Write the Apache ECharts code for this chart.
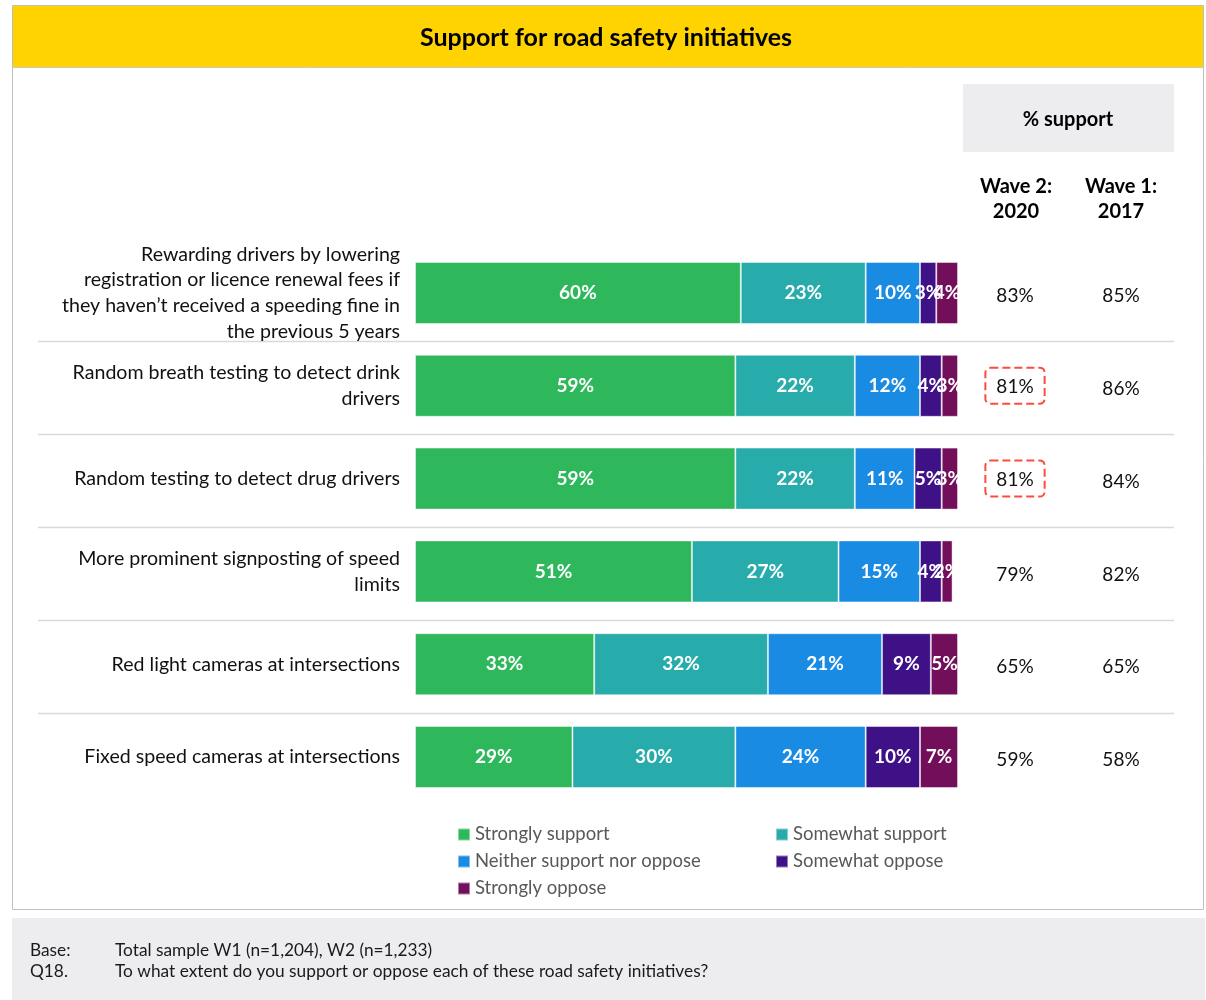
<!DOCTYPE html>
<html>
<head>
<meta charset="utf-8">
<script src="https://cdn.jsdelivr.net/npm/echarts@6/dist/echarts.min.js"></script>
<style>
  html, body { margin: 0; padding: 0; background: #fff; }
  #chart { width: 1206px; height: 1000px; }
</style>
</head>
<body>
<div id="chart"></div>
<script>
// Initiatives, top to bottom
var categories = [
  'Rewarding drivers by lowering\nregistration or licence renewal fees if\nthey haven\u2019t received a speeding fine in\nthe previous 5 years',
  'Random breath testing to detect drink\ndrivers',
  'Random testing to detect drug drivers',
  'More prominent signposting of speed\nlimits',
  'Red light cameras at intersections',
  'Fixed speed cameras at intersections'
];

// Response distribution (%), Wave 2: 2020
var stronglySupport  = [60, 59, 59, 51, 33, 29];
var somewhatSupport  = [23, 22, 22, 27, 32, 30];
var neither          = [10, 12, 11, 15, 21, 24];
var somewhatOppose   = [3, 4, 5, 4, 9, 10];
var stronglyOppose   = [4, 3, 3, 2, 5, 7];

// % support columns
var wave2 = [83, 81, 81, 79, 65, 59];
var wave1 = [85, 86, 84, 82, 65, 58];
// Wave 2 figures flagged with a dashed outline
var wave2Flag = [false, true, true, false, false, false];

var seriesNames = ['Strongly support', 'Somewhat support', 'Neither support nor oppose', 'Somewhat oppose', 'Strongly oppose'];
var seriesData = [stronglySupport, somewhatSupport, neither, somewhatOppose, stronglyOppose];
var colors = ['#2EB85B', '#28ACAB', '#1A8BE3', '#3F1187', '#730F5A'];

var FONT = 'Lato, "Open Sans", sans-serif';

var chart = echarts.init(document.getElementById('chart'), null, { renderer: 'canvas' });

var series = seriesNames.map(function (name, i) {
  return {
    name: name,
    type: 'bar',
    stack: 'total',
    barWidth: 62,
    data: seriesData[i],
    itemStyle: { color: colors[i], borderColor: 'rgba(255,255,255,0.45)', borderWidth: 1 },
    label: {
      show: true,
      position: 'inside',
      formatter: '{c}%',
      color: '#fff',
      fontFamily: FONT,
      fontWeight: 'bold',
      fontSize: 19
    },
    emphasis: { disabled: true }
  };
});

function waveAxis(values, margin, flags) {
  return {
    type: 'category',
    position: 'right',
    inverse: true,
    data: categories,
    axisLine: { show: false },
    axisTick: { show: false },
    splitLine: { show: false },
    axisLabel: {
      margin: margin,
      align: 'center',
      fontFamily: FONT,
      fontSize: 19,
      color: '#111',
      formatter: function (v, idx) {
        var t = values[idx] + '%';
        return flags && flags[idx] ? '{hl|' + t + '}' : '{n|' + t + '}';
      },
      rich: {
        n: { fontFamily: FONT, fontSize: 19, color: '#111', padding: [6, 0, 0, 0] },
        hl: {
          fontFamily: FONT, fontSize: 19, color: '#111',
          borderColor: '#FF4B3E', borderWidth: 2, borderType: 'dashed', borderRadius: 5,
          padding: [10, 11, 7, 11]
        }
      }
    }
  };
}

var legendText = { fontFamily: FONT, fontSize: 18.5, color: '#595959' };

var option = {
  animation: false,
  textStyle: { fontFamily: FONT },
  color: colors,
  grid: { left: 415, right: 248, top: 246.6, height: 556.8, containLabel: false },
  xAxis: { type: 'value', min: 0, max: 100, show: false },
  yAxis: [
    {
      type: 'category',
      inverse: true,
      data: categories,
      axisLine: { show: false },
      axisTick: { show: false },
      splitLine: { show: false },
      axisLabel: {
        margin: 15,
        align: 'right',
        fontFamily: FONT,
        fontSize: 19.6,
        lineHeight: 25.7,
        padding: [9, 0, 0, 0],
        color: '#111'
      }
    },
    waveAxis(wave2, 57, wave2Flag),
    waveAxis(wave1, 163, null)
  ],
  legend: [
    {
      orient: 'vertical', left: 457, top: 825, padding: 0,
      data: [seriesNames[0], seriesNames[2], seriesNames[4]],
      itemWidth: 12, itemHeight: 12, itemGap: 8, icon: 'rect',
      textStyle: legendText,
      selectedMode: false
    },
    {
      orient: 'vertical', left: 775, top: 825, padding: 0,
      data: [seriesNames[1], seriesNames[3]],
      itemWidth: 12, itemHeight: 12, itemGap: 8, icon: 'rect',
      textStyle: legendText,
      selectedMode: false
    }
  ],
  series: series
};

chart.setOption(option);

// Frame, header band, % support panel and footer, plus row separators placed from the category scale
var centers = categories.map(function (c, i) {
  return chart.convertToPixel({ yAxisIndex: 0 }, i);
});
var seps = [];
for (var i = 0; i < centers.length - 1; i++) {
  var y = Math.round((centers[i] + centers[i + 1]) / 2) + 2.5;
  seps.push({
    type: 'line', silent: true,
    shape: { x1: 38, y1: y, x2: 1174, y2: y },
    style: { stroke: '#D9D9D9', lineWidth: 1.5 }
  });
}

chart.setOption({
  graphic: [
    { type: 'rect', silent: true, z: -10, shape: { x: 12.5, y: 5.5, width: 1191, height: 904 }, style: { fill: '#fff', stroke: '#BFBFBF', lineWidth: 1 } },
    { type: 'rect', silent: true, z: -5, shape: { x: 13, y: 6, width: 1190, height: 61 }, style: { fill: '#FFD300' } },
    { type: 'line', silent: true, z: -5, shape: { x1: 13, y1: 67.5, x2: 1203, y2: 67.5 }, style: { stroke: '#C9C9C9', lineWidth: 1 } },
    { type: 'text', silent: true, x: 606, y: 38, style: { text: 'Support for road safety initiatives', fill: '#000', font: 'bold 25px ' + FONT, align: 'center', verticalAlign: 'middle' } },
    { type: 'rect', silent: true, z: -5, shape: { x: 963, y: 84, width: 211, height: 68 }, style: { fill: '#EDEDEF' } },
    { type: 'text', silent: true, x: 1068, y: 120, style: { text: '% support', fill: '#000', font: 'bold 20px ' + FONT, align: 'center', verticalAlign: 'middle' } },
    { type: 'text', silent: true, x: 1016, y: 199, style: { text: 'Wave 2:\n2020', fill: '#000', font: 'bold 20px ' + FONT, lineHeight: 25, align: 'center', verticalAlign: 'middle' } },
    { type: 'text', silent: true, x: 1121, y: 199, style: { text: 'Wave 1:\n2017', fill: '#000', font: 'bold 20px ' + FONT, lineHeight: 25, align: 'center', verticalAlign: 'middle' } },
    { type: 'rect', silent: true, z: -5, shape: { x: 12, y: 918, width: 1193, height: 82 }, style: { fill: '#EDEDEF' } },
    { type: 'text', silent: true, x: 30, y: 950, style: { text: 'Base:', fill: '#1a1a1a', font: '17.3px ' + FONT, verticalAlign: 'middle' } },
    { type: 'text', silent: true, x: 115, y: 950, style: { text: 'Total sample W1 (n=1,204), W2 (n=1,233)', fill: '#1a1a1a', font: '17.3px ' + FONT, verticalAlign: 'middle' } },
    { type: 'text', silent: true, x: 30, y: 971, style: { text: 'Q18.', fill: '#1a1a1a', font: '17.3px ' + FONT, verticalAlign: 'middle' } },
    { type: 'text', silent: true, x: 115, y: 971, style: { text: 'To what extent do you support or oppose each of these road safety initiatives?', fill: '#1a1a1a', font: '17.3px ' + FONT, verticalAlign: 'middle' } }
  ].concat(seps)
});
</script>
</body>
</html>
